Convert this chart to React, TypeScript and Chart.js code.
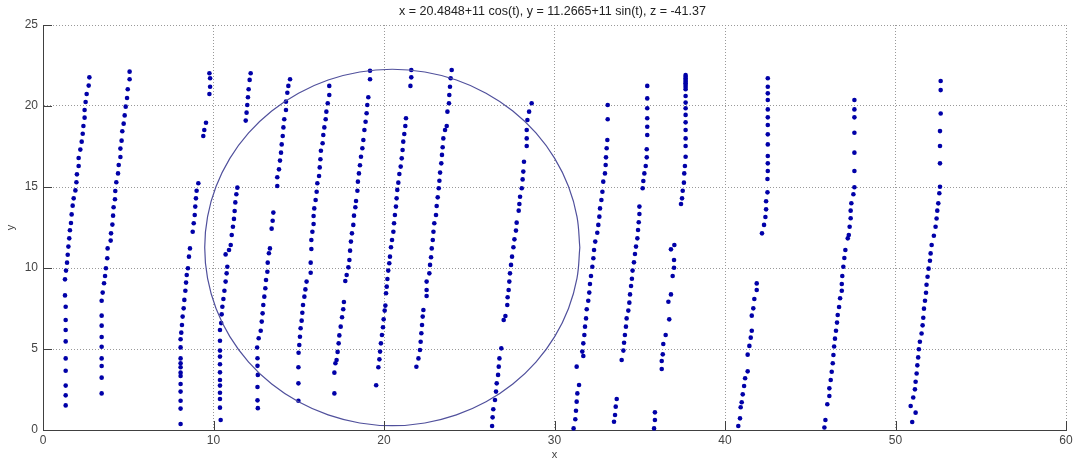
import React, { useEffect, useRef } from "react";
import { Chart, registerables } from "chart.js";

Chart.register(...registerables);

const titleText = "x = 20.4848+11 cos(t), y = 11.2665+11 sin(t), z = -41.37";
const xAxisLabel = "x";
const yAxisLabel = "y";
const xTickValues = [0, 10, 20, 30, 40, 50, 60];
const yTickValues = [0, 5, 10, 15, 20, 25];

type P = [number, number];

const strand1: P[] = [[2.72,21.77],[2.68,21.26],[2.56,20.74],[2.50,20.25],[2.44,19.75],[2.44,19.28],[2.37,18.77],[2.33,18.29],[2.27,17.80],[2.19,17.31],[2.09,16.79],[2.09,16.30],[1.99,15.78],[1.96,15.29],[1.90,14.79],[1.80,14.30],[1.74,13.85],[1.68,13.31],[1.64,12.78],[1.58,12.33],[1.54,11.83],[1.49,11.32],[1.45,10.82],[1.41,10.33],[1.35,9.84],[1.29,9.30],[1.29,8.31],[1.33,7.61],[1.33,6.79],[1.33,6.17],[1.33,5.47],[1.33,4.42],[1.33,3.66],[1.33,2.74],[1.33,2.14],[1.33,1.52]];
const strand2: P[] = [[5.08,22.12],[5.08,21.65],[4.97,21.03],[4.93,20.49],[4.85,19.96],[4.79,19.42],[4.73,18.91],[4.65,18.44],[4.61,17.86],[4.54,17.37],[4.54,16.85],[4.44,16.36],[4.40,15.84],[4.30,15.29],[4.24,14.75],[4.22,14.24],[4.14,13.75],[4.11,13.23],[4.07,12.68],[3.99,12.14],[3.97,11.69],[3.79,11.21],[3.77,10.60],[3.69,9.98],[3.64,9.51],[3.58,9.06],[3.50,8.48],[3.44,7.98],[3.44,7.06],[3.44,6.44],[3.44,5.74],[3.44,5.14],[3.44,4.42],[3.44,3.95],[3.44,3.23],[3.44,2.26]];
const strand3: P[] = [[9.76,22.02],[9.80,21.71],[9.80,21.19],[9.76,20.74],[9.56,18.97],[9.46,18.52],[9.40,18.15],[9.11,15.23],[9.01,14.77],[8.97,14.30],[8.93,13.79],[8.90,13.27],[8.84,12.76],[8.78,12.24],[8.62,11.21],[8.56,10.70],[8.50,9.98],[8.43,9.57],[8.39,9.10],[8.35,8.60],[8.29,8.03],[8.25,7.51],[8.19,7.00],[8.15,6.48],[8.11,6.01],[8.07,5.60],[8.07,5.10],[8.07,4.42],[8.07,4.12],[8.07,3.87],[8.07,3.54],[8.07,3.33],[8.07,2.84],[8.07,2.37],[8.07,1.81],[8.07,1.32],[8.07,0.37]];
const strand4: P[] = [[12.18,22.02],[12.12,21.61],[12.06,21.03],[12.02,20.54],[11.98,20.06],[11.94,19.59],[11.89,19.10],[11.40,14.96],[11.34,14.55],[11.28,14.05],[11.24,13.52],[11.20,13.03],[11.14,12.55],[11.07,12.04],[11.01,11.42],[10.91,11.11],[10.71,10.84],[10.81,10.08],[10.77,9.67],[10.71,9.16],[10.64,8.60],[10.58,8.09],[10.52,7.61],[10.48,7.14],[10.45,6.60],[10.38,6.17],[10.38,5.51],[10.38,4.90],[10.38,4.53],[10.38,4.06],[10.38,3.56],[10.38,3.09],[10.38,2.74],[10.38,2.30],[10.38,1.91],[10.38,1.38],[10.42,0.62]];
const strand5: P[] = [[14.49,21.65],[14.39,21.24],[14.33,20.82],[14.25,20.27],[14.25,19.75],[14.15,19.18],[14.10,18.68],[14.06,18.15],[14.00,17.63],[13.96,17.12],[13.90,16.63],[13.84,16.09],[13.74,15.60],[13.74,15.06],[13.51,13.42],[13.47,12.92],[13.41,12.43],[13.31,11.21],[13.25,10.91],[13.18,10.33],[13.16,9.77],[13.08,9.26],[13.04,8.75],[12.98,8.23],[12.92,7.72],[12.88,7.20],[12.83,6.69],[12.77,6.13],[12.65,5.66],[12.56,5.09],[12.58,4.43],[12.58,3.96],[12.60,3.40],[12.58,2.65],[12.58,1.83],[12.60,1.35]];
const strand6: P[] = [[16.79,21.24],[16.79,20.68],[16.70,20.17],[16.62,19.65],[16.58,19.18],[16.50,18.68],[16.44,18.21],[16.40,17.70],[16.30,17.24],[16.27,16.71],[16.23,16.21],[16.19,15.68],[16.09,15.23],[16.05,14.71],[15.99,14.20],[15.91,13.68],[15.87,13.21],[15.87,12.72],[15.80,12.24],[15.74,11.73],[15.74,11.17],[15.70,10.33],[15.70,9.71],[15.46,9.16],[15.39,8.68],[15.33,8.23],[15.25,7.72],[15.21,7.24],[15.17,6.75],[15.11,6.28],[15.07,5.76],[15.03,5.25],[14.99,4.77],[14.98,3.87],[14.98,2.88],[14.98,1.81]];
const strand7: P[] = [[19.18,22.18],[19.18,21.65],[19.08,20.54],[19.02,20.06],[18.98,19.55],[18.92,19.03],[18.85,18.52],[18.79,17.90],[18.73,17.39],[18.65,16.87],[18.59,16.34],[18.53,15.84],[18.47,15.33],[18.44,14.77],[18.36,14.14],[18.32,13.75],[18.24,13.23],[18.20,12.66],[18.12,12.14],[18.06,11.63],[18.01,11.07],[17.97,10.49],[17.91,10.04],[17.81,9.57],[17.73,9.20],[17.65,7.90],[17.61,7.45],[17.54,6.96],[17.46,6.38],[17.38,5.84],[17.34,5.35],[17.28,4.82],[17.22,4.32],[17.15,4.12],[17.09,3.54],[17.09,2.26]];
const strand8: P[] = [[21.60,22.22],[21.60,21.77],[21.55,21.24],[21.29,19.24],[21.25,18.77],[21.19,18.27],[21.13,17.80],[21.09,17.28],[21.04,16.77],[20.98,16.26],[20.90,15.80],[20.84,15.27],[20.78,14.82],[20.74,14.30],[20.70,13.79],[20.64,13.27],[20.59,12.76],[20.55,12.24],[20.47,11.73],[20.41,11.28],[20.35,10.70],[20.31,10.29],[20.25,9.84],[20.20,9.32],[20.16,8.85],[20.12,8.44],[20.08,7.68],[20.04,7.37],[19.98,6.83],[19.94,6.34],[19.88,5.86],[19.82,5.35],[19.77,4.84],[19.73,4.36],[19.67,3.87],[19.54,2.76]];
const strand9: P[] = [[23.97,22.22],[23.91,21.71],[23.87,21.19],[23.83,20.68],[23.81,20.17],[23.72,19.65],[23.68,18.77],[23.58,18.52],[23.48,18.00],[23.44,17.45],[23.40,16.98],[23.36,16.46],[23.29,15.89],[23.25,15.39],[23.21,14.92],[23.15,14.36],[23.09,13.83],[23.05,13.27],[22.95,12.76],[22.90,12.24],[22.86,11.73],[22.80,11.21],[22.76,10.66],[22.70,10.19],[22.66,9.67],[22.50,9.16],[22.50,8.64],[22.50,8.27],[22.31,7.41],[22.27,7.00],[22.23,6.48],[22.19,5.97],[22.15,5.45],[22.11,4.94],[22.02,4.42],[21.90,3.90]];
const strand10: P[] = [[28.66,20.17],[28.51,19.65],[28.41,19.14],[28.37,18.52],[28.37,18.00],[28.37,17.53],[28.21,16.56],[28.17,15.95],[28.13,15.47],[28.08,14.92],[27.98,14.40],[27.94,13.95],[27.90,13.54],[27.78,12.80],[27.74,12.31],[27.65,11.77],[27.59,11.28],[27.51,10.70],[27.45,10.19],[27.39,9.67],[27.35,9.16],[27.31,8.64],[27.25,8.19],[27.23,7.72],[27.12,7.04],[27.02,6.79],[26.88,5.04],[26.77,4.42],[26.73,3.91],[26.69,3.40],[26.61,2.88],[26.57,2.37],[26.51,1.85],[26.41,1.28],[26.37,0.78],[26.34,0.25]];
const strand11: P[] = [[33.12,20.06],[33.12,19.18],[33.10,17.90],[33.06,17.39],[33.02,16.83],[33.00,16.36],[32.96,15.84],[32.86,15.33],[32.81,14.71],[32.75,14.20],[32.67,13.68],[32.63,13.17],[32.57,12.66],[32.51,12.18],[32.39,11.63],[32.32,11.11],[32.28,10.60],[32.22,10.08],[32.14,9.51],[32.08,9.01],[32.04,8.48],[31.98,7.98],[31.89,7.45],[31.85,6.89],[31.79,6.38],[31.75,5.86],[31.69,5.35],[31.63,4.84],[31.69,4.57],[31.30,3.91],[31.44,2.78],[31.34,2.26],[31.30,1.75],[31.26,1.19],[31.22,0.66],[31.12,0.10]];
const strand12: P[] = [[35.44,21.24],[35.44,20.47],[35.44,19.86],[35.44,19.24],[35.44,18.72],[35.44,18.21],[35.41,17.33],[35.41,16.83],[35.35,16.30],[35.27,15.84],[35.21,15.37],[35.17,14.92],[34.98,13.79],[34.98,13.33],[34.94,12.82],[34.90,12.35],[34.86,11.83],[34.78,11.32],[34.72,10.86],[34.66,10.35],[34.58,9.84],[34.54,9.34],[34.49,8.89],[34.43,8.37],[34.39,7.86],[34.33,7.37],[34.23,6.89],[34.19,6.38],[34.13,5.86],[34.08,5.39],[34.04,4.90],[33.94,4.32],[33.65,1.91],[33.59,1.44],[33.55,0.93],[33.49,0.51]];
const strand13: P[] = [[37.69,21.91],[37.69,21.80],[37.69,21.70],[37.69,21.60],[37.69,21.50],[37.69,21.40],[37.69,21.30],[37.69,21.17],[37.69,21.03],[37.69,20.62],[37.69,20.21],[37.69,19.86],[37.69,19.45],[37.69,18.99],[37.69,18.52],[37.69,18.00],[37.69,17.53],[37.69,16.87],[37.65,16.30],[37.61,15.84],[37.59,15.27],[37.52,14.77],[37.48,14.30],[37.42,13.95],[37.03,11.42],[36.83,11.15],[37.01,10.49],[37.01,10.02],[36.93,9.51],[36.83,8.37],[36.68,7.92],[36.73,6.83],[36.52,5.86],[36.38,5.31],[36.35,4.67],[36.29,4.26],[36.29,3.77],[35.89,1.09],[35.89,0.62],[35.84,0.10]];
const strand14: P[] = [[42.51,21.71],[42.51,21.19],[42.51,20.78],[42.51,20.37],[42.51,19.79],[42.51,19.30],[42.51,18.83],[42.51,18.25],[42.51,17.63],[42.51,16.91],[42.51,16.46],[42.51,15.99],[42.49,15.49],[42.49,14.67],[42.41,14.12],[42.41,13.62],[42.37,13.15],[42.29,12.66],[42.17,12.14],[41.86,9.05],[41.86,8.64],[41.72,8.09],[41.66,7.51],[41.57,7.06],[41.57,6.13],[41.51,5.70],[41.43,5.19],[41.33,4.65],[41.33,3.62],[41.18,3.19],[41.12,2.72],[41.04,2.20],[40.98,1.71],[40.92,1.40],[40.88,0.72],[40.78,0.25]];
const strand15: P[] = [[47.59,20.37],[47.59,19.79],[47.59,19.30],[47.59,18.35],[47.59,17.12],[47.59,15.99],[47.59,14.98],[47.53,14.55],[47.41,14.00],[47.37,13.54],[47.37,13.07],[47.31,12.55],[47.26,12.04],[47.20,11.83],[47.06,11.11],[47.00,10.62],[46.94,10.08],[46.88,9.51],[46.85,9.01],[46.85,8.60],[46.75,8.13],[46.69,7.59],[46.61,7.10],[46.57,6.63],[46.51,6.13],[46.45,5.64],[46.40,5.15],[46.36,4.63],[46.32,4.12],[46.26,3.60],[46.20,3.09],[46.12,2.57],[46.12,2.10],[46.00,1.59],[45.89,0.62],[45.83,0.15]];
const strand16: P[] = [[52.65,21.54],[52.65,20.98],[52.65,19.54],[52.61,18.45],[52.61,17.53],[52.61,16.46],[52.61,15.02],[52.57,14.61],[52.51,13.99],[52.45,13.54],[52.41,13.06],[52.35,12.55],[52.25,11.99],[52.12,11.42],[52.06,10.90],[52.02,10.45],[51.94,9.96],[51.88,9.46],[51.82,8.97],[51.79,8.47],[51.73,7.98],[51.67,7.49],[51.63,6.93],[51.59,6.46],[51.53,5.96],[51.43,5.45],[51.37,4.98],[51.33,4.48],[51.28,3.99],[51.24,3.49],[51.18,2.98],[51.14,2.51],[51.04,2.01],[50.89,1.48],[51.18,1.07],[50.98,0.49]];

// circle x = 20.4848 + 11 cos(t), y = 11.2665 + 11 sin(t), sampled every 10 degrees
const circleX = [31.485,31.318,30.822,30.011,28.911,27.556,25.985,24.247,22.395,20.485,18.575,16.723,14.985,13.414,12.059,10.959,10.148,9.652,9.485,9.652,10.148,10.959,12.059,13.414,14.985,16.723,18.575,20.485,22.395,24.247,25.985,27.556,28.911,30.011,30.822,31.318,31.485];
const circleY = [11.267,13.177,15.029,16.767,18.338,19.693,20.793,21.604,22.100,22.267,22.100,21.604,20.793,19.693,18.338,16.767,15.029,13.177,11.267,9.357,7.505,5.767,4.196,2.841,1.741,0.930,0.434,0.267,0.434,0.930,1.741,2.841,4.196,5.767,7.505,9.357,11.267];

const strands: P[][] = [strand1, strand2, strand3, strand4, strand5, strand6, strand7, strand8, strand9, strand10, strand11, strand12, strand13, strand14, strand15, strand16];

const FONT = '"Liberation Sans", Arial, sans-serif';

export default function App() {
  const ref = useRef<HTMLCanvasElement | null>(null);

  useEffect(() => {
    if (!ref.current) return;
    const decor = {
      id: "decor",
      afterDraw(chart: any) {
        const { ctx, chartArea: a, scales } = chart;
        ctx.save();
        ctx.strokeStyle = "#404040";
        ctx.lineWidth = 1;
        ctx.beginPath();
        for (const v of xTickValues) {
          const px = Math.round(scales.x.getPixelForValue(v)) + 0.5;
          ctx.moveTo(px, a.bottom);
          ctx.lineTo(px, a.bottom - 9);
        }
        for (const v of yTickValues) {
          const py = Math.round(scales.y.getPixelForValue(v)) + 0.5;
          ctx.moveTo(a.left, py);
          ctx.lineTo(a.left + 9, py);
        }
        ctx.stroke();
        ctx.fillStyle = "#222";
        ctx.font = `12.5px ${FONT}`;
        ctx.textAlign = "center";
        ctx.textBaseline = "middle";
        ctx.fillText(titleText, (a.left + a.right) / 2 - 2, 12);
        ctx.restore();
      },
    };

    const pointSets = strands.map((s) => ({
      data: s.map(([x, y]) => ({ x, y })),
      showLine: false,
      pointRadius: 2.3,
      pointStyle: "circle",
      pointBackgroundColor: "#0000a8",
      pointBorderWidth: 0,
      clip: false as any,
    }));

    const chart = new Chart(ref.current, {
      type: "scatter",
      data: {
        datasets: [
          {
            data: circleX.map((x, i) => ({ x, y: circleY[i] })),
            showLine: true,
            tension: 0.4,
            borderColor: "#50509c",
            borderWidth: 1.2,
            pointRadius: 0,
            fill: false,
          } as any,
          ...pointSets,
        ],
      },
      options: {
        responsive: false,
        animation: false,
        layout: { padding: { top: 25, right: 11, left: 0, bottom: 0 } },
        plugins: { legend: { display: false }, tooltip: { enabled: false }, title: { display: false } },
        scales: {
          x: {
            type: "linear",
            min: 0,
            max: 60,
            afterFit: (s: any) => { s.height = 30; },
            ticks: { stepSize: 10, padding: 3, color: "#444", font: { family: FONT, size: 12 } },
            grid: { drawTicks: false, color: "#999", lineWidth: 1 },
            border: { display: true, color: "#404040", width: 1, dash: [1, 2] },
            title: { display: true, text: xAxisLabel, color: "#444", font: { family: FONT, size: 11, lineHeight: 1 }, padding: { top: 0, bottom: 0 } },
          },
          y: {
            type: "linear",
            min: 0,
            max: 25,
            afterFit: (s: any) => { s.width = 43; },
            ticks: { stepSize: 5, padding: 5, color: "#444", font: { family: FONT, size: 12 } },
            grid: { drawTicks: false, color: "#999", lineWidth: 1 },
            border: { display: true, color: "#404040", width: 1, dash: [1, 2] },
            title: { display: true, text: yAxisLabel, color: "#444", font: { family: FONT, size: 11 }, padding: { top: 4, bottom: 0 } },
          },
        },
      },
      plugins: [decor],
    });
    return () => chart.destroy();
  }, []);

  return (
    <div style={{ position: "fixed", left: 0, top: 0, width: 1077, height: 460, background: "#fff" }}>
      <canvas ref={ref} width={1077} height={460} style={{ display: "block" }} />
    </div>
  );
}
